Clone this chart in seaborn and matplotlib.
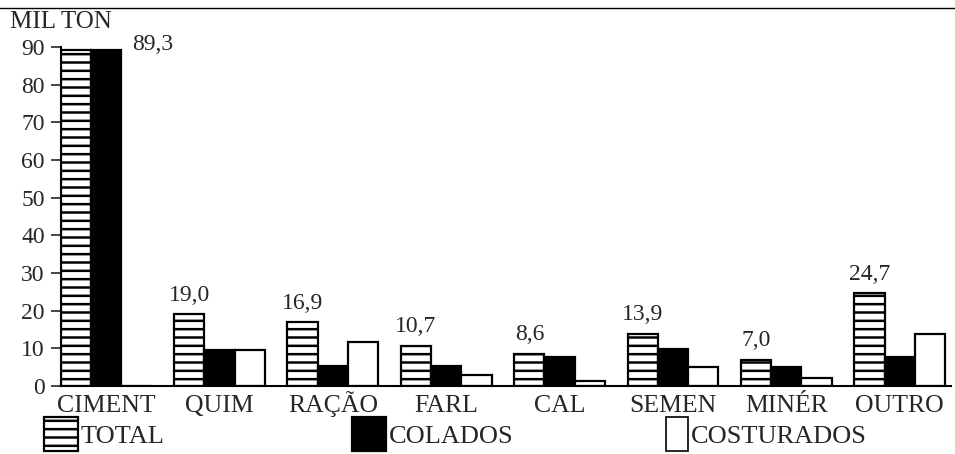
import matplotlib
matplotlib.use("Agg")
import matplotlib.pyplot as plt
from matplotlib.lines import Line2D
from matplotlib.patches import Patch
import seaborn as sns
import pandas as pd

# Consumption of sacks by sector (thousand tonnes)
categories = ["CIMENT", "QUIM", "RAÇÃO", "FARL", "CAL", "SEMEN", "MINÉR", "OUTRO"]
total = [89.3, 19.0, 16.9, 10.7, 8.6, 13.9, 7.0, 24.7]
colados = [89.3, 9.5, 5.3, 5.3, 7.6, 9.9, 5.1, 7.8]
costurados = [0.0, 9.5, 11.7, 2.8, 1.4, 5.1, 2.1, 13.8]
total_labels = ["89,3", "19,0", "16,9", "10,7", "8,6", "13,9", "7,0", "24,7"]
series = ["TOTAL", "COLADOS", "COSTURADOS"]
yticks = [0, 10, 20, 30, 40, 50, 60, 70, 80, 90]

df = pd.DataFrame({
    "setor": categories * 3,
    "serie": [series[0]] * 8 + [series[1]] * 8 + [series[2]] * 8,
    "valor": total + colados + costurados,
})

sns.set_style("white")
plt.rcParams["font.family"] = ["Liberation Serif", "DejaVu Serif"]
plt.rcParams["hatch.linewidth"] = 1.8
plt.rcParams["hatch.color"] = "black"

fig = plt.figure(figsize=(9.55, 4.54), dpi=100)
ax = fig.add_axes([60.7 / 955, 1 - 386 / 454, 890 / 955, (386 - 47) / 454])

palette = {"TOTAL": "white", "COLADOS": "black", "COSTURADOS": "white"}
sns.barplot(data=df, x="setor", y="valor", hue="serie", order=categories,
            hue_order=series, palette=palette, edgecolor="black",
            linewidth=1.6, width=0.8, saturation=1, legend=False, ax=ax)

# horizontal rules inside the TOTAL bars
for p in ax.containers[0]:
    p.set_hatch("--")

ax.set_xlim(-0.4, 7.45)
ax.set_ylim(0, 90)
ax.set_yticks(yticks)
ax.set_yticklabels([str(t) for t in yticks], fontsize=17)
ax.tick_params(axis="y", direction="out", length=7.5, width=1.2, pad=4, left=True)
# sector names share one baseline, whatever their accents
ax.tick_params(axis="x", length=0, pad=18.5, labelsize=18.5)
for t in ax.get_xticklabels():
    t.set_verticalalignment("baseline")
ax.set_xlabel("")
ax.set_ylabel("")
for s in ["top", "right"]:
    ax.spines[s].set_visible(False)
for s in ["left", "bottom"]:
    ax.spines[s].set_linewidth(1.5)
    ax.spines[s].set_color("black")

# value labels over the TOTAL bars
for i, (p, lab) in enumerate(zip(ax.containers[0], total_labels)):
    if i == 0:
        q = ax.containers[2][0]
        ax.annotate(lab, (q.get_x(), total[0]), xytext=(8, 0),
                    textcoords="offset points", ha="left", va="baseline",
                    fontsize=17, annotation_clip=False)
    else:
        ax.annotate(lab, (p.get_x() + p.get_width() / 2, total[i]),
                    xytext=(0, 6), textcoords="offset points",
                    ha="center", va="bottom", fontsize=17)

fig.text(10 / 955, 1 - 11 / 454, "MIL TON", fontsize=18, ha="left", va="top")

# page rule along the top edge
fig.add_artist(Line2D([0, 1], [1 - 7.5 / 454, 1 - 7.5 / 454],
                      transform=fig.transFigure, color="black", lw=1.0))

# legend entries spread along the bottom
handles = [
    Patch(facecolor="white", edgecolor="black", hatch="--", linewidth=1.6),
    Patch(facecolor="black", edgecolor="black", linewidth=1.6),
    Patch(facecolor="white", edgecolor="black", linewidth=1.2),
]
anchors = [44 / 955, 352 / 955, 666 / 955]
hlen = [1.3, 1.3, 0.85]
for h, name, xa, hl in zip(handles, series, anchors, hlen):
    fig.legend([h], [name], loc="upper left", bbox_to_anchor=(xa, 1 - 417 / 454),
               frameon=False, fontsize=19, handlelength=hl, handleheight=1.6,
               handletextpad=0.1, borderpad=0, borderaxespad=0)

fig.savefig("out.png", dpi=100)
